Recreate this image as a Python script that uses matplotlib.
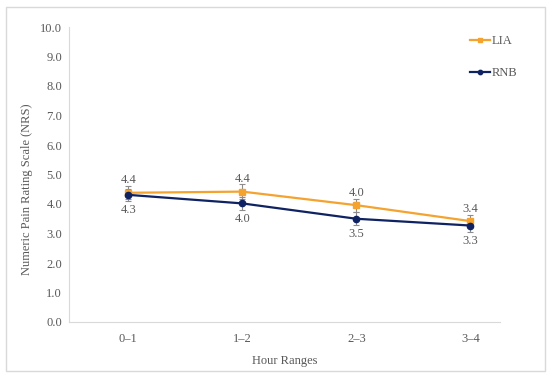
import matplotlib
matplotlib.use("Agg")
import matplotlib.pyplot as plt
from matplotlib.patches import Rectangle

categories = ["0–1", "1–2", "2–3", "3–4"]
lia = [4.38, 4.42, 3.96, 3.42]
rnb = [4.31, 4.02, 3.50, 3.27]
lia_err = [0.22, 0.26, 0.22, 0.2]
rnb_err = [0.2, 0.22, 0.22, 0.22]
lia_labels = ["4.4", "4.4", "4.0", "3.4"]
rnb_labels = ["4.3", "4.0", "3.5", "3.3"]
yticks = [i for i in range(11)]

plt.rcParams['font.family'] = ['Liberation Serif', 'DejaVu Serif']
txt = '#595959'
orange = '#F4A32E'
navy = '#0F2262'

fig = plt.figure(figsize=(5.5, 3.78), dpi=100)
fig.patches.append(Rectangle((6/550, 7/378), 539/550, 364/378, transform=fig.transFigure,
                             fill=False, edgecolor='#D9D9D9', linewidth=1.0))
ax = fig.add_axes([69/550, 1-322/378, 431/550, 295/378])
x = list(range(len(categories)))

ax.errorbar(x, lia, yerr=lia_err, fmt='none', ecolor='#8C8C8C', elinewidth=0.8, capsize=2, capthick=0.8, zorder=2)
ax.errorbar(x, rnb, yerr=rnb_err, fmt='none', ecolor='#8C8C8C', elinewidth=0.8, capsize=2, capthick=0.8, zorder=2)
ax.plot(x, lia, color=orange, marker='s', markersize=4.5, linewidth=1.6, label='LIA', zorder=3)
ax.plot(x, rnb, color=navy, marker='o', markersize=4.5, linewidth=1.6, label='RNB', zorder=3)

for xi, v, s in zip(x, lia, lia_labels):
    ax.annotate(s, (xi, v), xytext=(0, 9), textcoords='offset points', ha='center', va='center',
                fontsize=9, color=txt)
for xi, v, s in zip(x, rnb, rnb_labels):
    ax.annotate(s, (xi, v), xytext=(0, -11), textcoords='offset points', ha='center', va='center',
                fontsize=9, color=txt)

ax.set_xlim(-0.52, 3.26)
ax.set_ylim(0, 10)
ax.set_yticks(yticks)
ax.set_yticklabels([f"{t:.1f}" for t in yticks])
ax.set_xticks(x)
ax.set_xticklabels(categories)
ax.tick_params(axis='both', length=0, labelsize=9, colors=txt)
ax.tick_params(axis='y', pad=5)
ax.tick_params(axis='x', pad=8)
for sp in ['top', 'right']:
    ax.spines[sp].set_visible(False)
for sp in ['left', 'bottom']:
    ax.spines[sp].set_color('#D9D9D9')
    ax.spines[sp].set_linewidth(0.8)

ax.set_ylabel("Numeric Pain Rating Scale (NRS)", fontsize=9, color=txt)
ax.yaxis.set_label_coords(33/550, 0.5, transform=fig.transFigure)
ax.set_xlabel("Hour Ranges", fontsize=9, color=txt)
ax.xaxis.set_label_coords(0.5 * (69 + 500) / 550, 1 - 355/378, transform=fig.transFigure)

leg = ax.legend(loc='upper left', bbox_to_anchor=(459/550, 1-24/378), bbox_transform=fig.transFigure,
                frameon=False, fontsize=9, labelspacing=1.6, handlelength=1.6, handletextpad=0.15,
                markerscale=0.7)
for t in leg.get_texts():
    t.set_color(txt)

fig.savefig("out.png", dpi=100)
